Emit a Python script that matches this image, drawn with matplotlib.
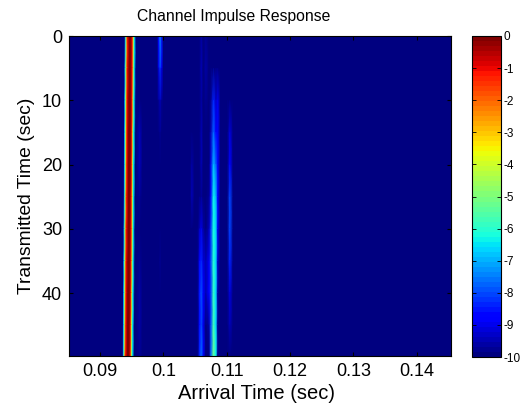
# Channel impulse response, levels
import numpy as np
import matplotlib
matplotlib.use('Agg')
import matplotlib.pyplot as plt

plt.rcParams['font.family'] = ['Liberation Sans', 'DejaVu Sans']
plt.rcParams['axes.unicode_minus'] = False

# Transmitted time rows (sec)
transmit = [0, 5, 10, 15, 20, 25, 30, 35, 40, 45, 49.8]

# Direct path: centre of the line per row, and its level profile across the line
direct_centre = [0.09473, 0.09470, 0.09467, 0.09464, 0.09461, 0.09458, 0.09455, 0.09452, 0.09449, 0.09445, 0.09442]
direct_offset = [-0.00085, -0.00072, -0.00058, -0.00044, -0.00030, -0.00008, 0.00014, 0.00034, 0.00046, 0.00058, 0.00072, 0.00090]
direct_level = [-10, -7, -4.5, -1.8, -0.9, -0.1, -0.1, -0.9, -1.8, -4.5, -6.5, -10]

# Later arrivals: arrival time of each column and its level per row
quiet = [-10] * 11
echo_columns = [
    (0.0851, quiet),
    (0.0957, quiet),
    (0.0963, [-10, -10, -9.9, -9.5, -9.5, -9.7, -9.9, -9.7, -9.6, -9.6, -9.7]),
    (0.0967, quiet),
    (0.0990, quiet),
    (0.09925, [-8.6, -9.2, -9.8, -10, -10, -10, -10, -10, -10, -10, -10]),
    (0.09950, [-7.3, -8.2, -9.4, -9.8, -10, -10, -10, -9.8, -10, -10, -10]),
    (0.09975, [-8.4, -9.0, -9.8, -10, -10, -10, -10, -10, -10, -10, -10]),
    (0.1000, quiet),
    (0.1042, quiet),
    (0.1045, [-10, -10, -10, -10, -9.6, -9.5, -9.9, -10, -10, -10, -10]),
    (0.1049, quiet),
    (0.1054, quiet),
    (0.1057, [-10, -10, -10, -10, -10, -10, -9.4, -8.9, -8.5, -8.6, -8.4]),
    (0.1060, [-9.6, -9.5, -9.6, -9.4, -9.4, -9.7, -9.0, -8.3, -7.9, -8.0, -7.6]),
    (0.1063, [-10, -9.9, -10, -10, -10, -10, -9.6, -9.2, -8.9, -9.0, -8.6]),
    (0.1067, [-9.8, -9.6, -9.8, -10, -10, -10, -10, -9.5, -9.5, -10, -10]),
    (0.1072, [-10, -10, -10, -10, -10, -9.8, -9.5, -9.0, -8.9, -9.6, -10]),
    (0.1075, [-10, -10, -9.8, -9.5, -9.0, -8.6, -8.2, -8.0, -8.2, -8.0, -7.8]),
    (0.1079, [-10, -10, -8.4, -7.8, -7.0, -6.4, -6.1, -6.0, -5.9, -5.7, -5.2]),
    (0.1083, [-10, -10, -9.3, -8.6, -7.8, -7.0, -6.7, -6.6, -6.7, -6.6, -6.4]),
    (0.1086, [-10, -10, -9.0, -8.6, -8.6, -8.8, -9.0, -9.3, -9.6, -9.8, -9.8]),
    (0.1090, quiet),
    (0.1101, quiet),
    (0.1105, [-10, -10, -10, -9.2, -8.6, -8.1, -8.0, -8.3, -9.2, -9.5, -10]),
    (0.1110, quiet),
    (0.1454, quiet),
]

x_ticks = [0.09, 0.1, 0.11, 0.12, 0.13, 0.14]
x_labels = ['0.09', '0.1', '0.11', '0.12', '0.13', '0.14']
y_ticks = [0, 10, 20, 30, 40]
bar_ticks = [0, -1, -2, -3, -4, -5, -6, -7, -8, -9, -10]

W, H = 529, 407
fig = plt.figure(figsize=(W / 100, H / 100), dpi=100)
ax = fig.add_axes([69 / W, (H - 356) / H, 382 / W, 320 / H])
cmap = plt.get_cmap('jet', 64)

echo_arrival = [c[0] for c in echo_columns]
echo_levels = np.array([c[1] for c in echo_columns]).T
mesh = ax.pcolormesh(echo_arrival, transmit, echo_levels, shading='gouraud', cmap=cmap, vmin=-10, vmax=0)

# the direct path drifts slowly, so its columns follow the centre
direct_x = np.add.outer(direct_centre, direct_offset)
direct_y = np.tile(np.array(transmit)[:, None], (1, len(direct_offset)))
direct_c = np.tile(direct_level, (len(transmit), 1))
ax.pcolormesh(direct_x, direct_y, direct_c, shading='gouraud', cmap=cmap, vmin=-10, vmax=0)

ax.set_xlim(0.0851, 0.1454)
ax.set_ylim(49.8, 0)
ax.set_xticks(x_ticks)
ax.set_xticklabels(x_labels)
ax.set_yticks(y_ticks)
ax.tick_params(direction='in', top=True, right=True, length=3, width=0.8, labelsize=13, pad=5)
ax.set_xlabel('Arrival Time (sec)', fontsize=14.5, labelpad=3, x=0.49)
ax.set_ylabel('Transmitted Time (sec)', fontsize=13.9, labelpad=5)
ax.set_title('Channel Impulse Response', fontsize=11.3, pad=11, x=0.43)

cax = fig.add_axes([472 / W, (H - 357) / H, 29 / W, 321 / H])
bar = fig.colorbar(mesh, cax=cax)
bar.set_ticks(bar_ticks)
bar.ax.tick_params(direction='in', left=True, right=True, length=3, width=0.6, labelsize=8.5, pad=2)
bar.outline.set_linewidth(0.8)

fig.savefig('out.png', dpi=100)
